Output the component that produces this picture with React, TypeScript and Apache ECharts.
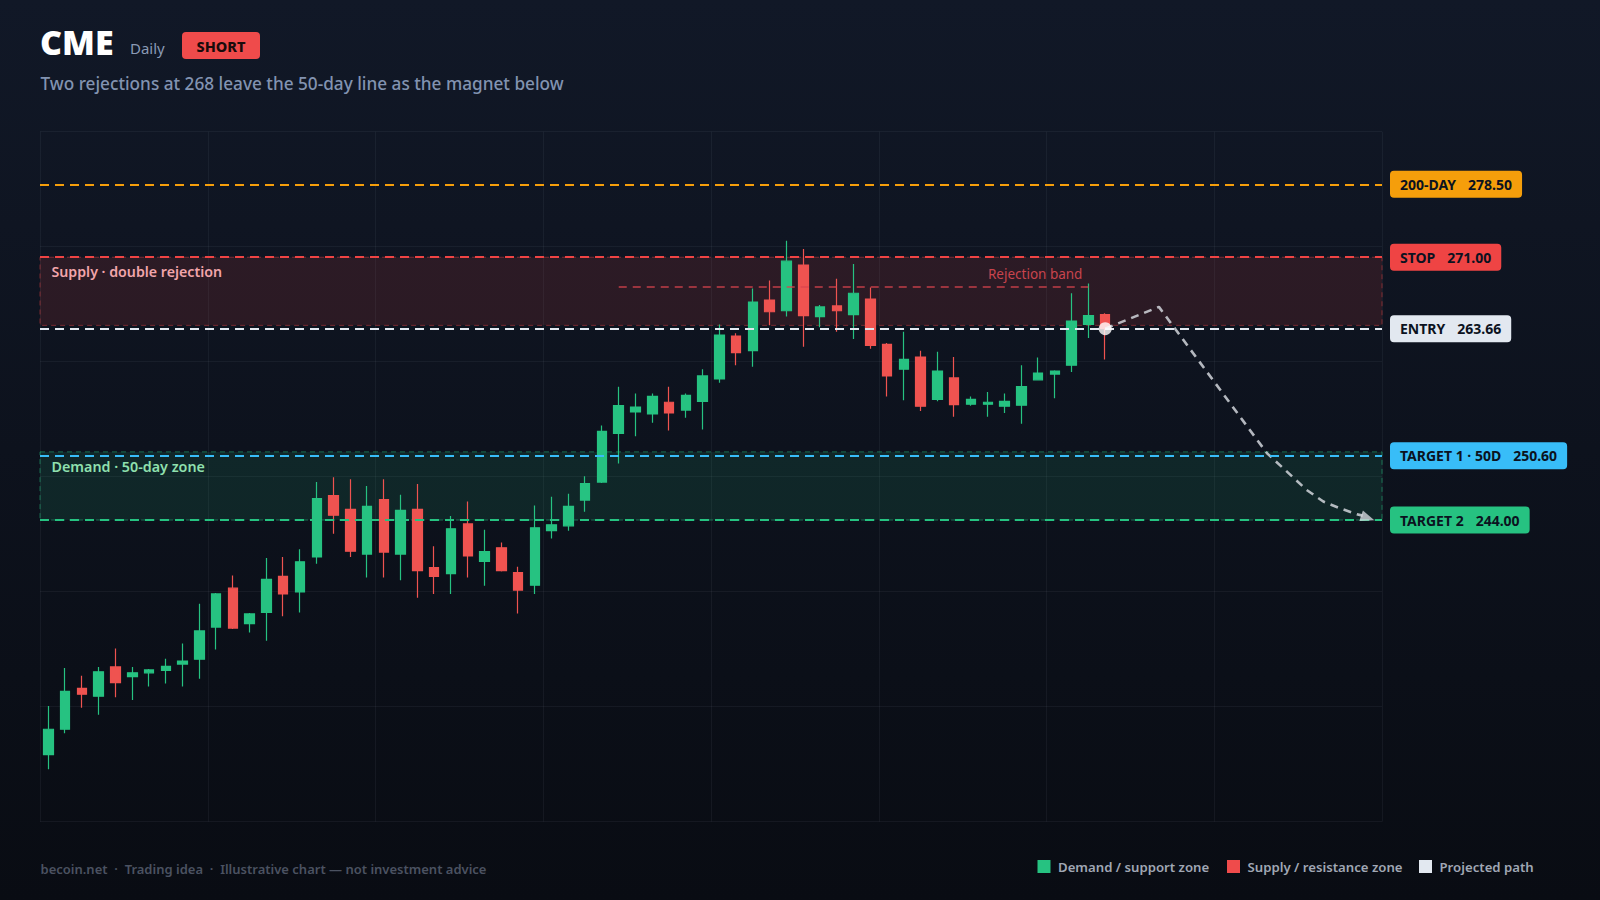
import React, { useEffect, useRef } from "react";
import * as echarts from "echarts";

// ---------------- DATA ----------------
const TOTAL_SLOTS = 80; // 64 traded days + projection space
const categories = Array.from({ length: TOTAL_SLOTS }, (_, i) => `D${i + 1}`);

const opens = [
  219.9, 222.5, 226.7, 225.9, 228.9, 227.9, 228.3, 228.55, 229.2, 229.7,
  233.0, 237.0, 233.35, 234.5, 238.2, 236.6, 240.2, 246.5, 245.1, 240.5,
  246.1, 240.5, 245.1, 239.1, 238.5, 243.6, 239.75, 241.15, 238.6, 237.3,
  242.9, 243.4, 246.05, 247.9, 252.9, 255.1, 254.9, 256.1, 255.3, 256.2,
  258.5, 262.9, 261.4, 266.6, 265.5, 270.2, 264.9, 266.0, 265.1, 266.7,
  262.05, 259.5, 260.75, 256.4, 258.6, 255.9, 255.9, 255.7, 255.8, 258.4,
  259.0, 259.9, 264.1, 265.1,
];
const closes = [
  222.5, 226.4, 226.1, 228.4, 227.3, 228.3, 228.6, 228.95, 229.5, 232.6,
  236.4, 232.9, 234.35, 237.9, 236.4, 239.7, 246.2, 244.5, 240.8, 245.4,
  240.7, 245.0, 238.8, 238.2, 243.1, 240.3, 240.75, 238.8, 236.8, 243.2,
  243.5, 245.4, 247.75, 253.1, 255.75, 255.6, 256.7, 255.0, 256.8, 258.8,
  263.0, 261.2, 266.4, 265.4, 270.6, 265.0, 265.9, 265.5, 267.3, 261.95,
  258.8, 260.5, 255.7, 259.3, 255.85, 256.4, 256.1, 256.2, 257.7, 259.1,
  259.3, 264.45, 265.0, 263.66,
];
const lows = [
  218.4, 222.1, 224.7, 224.0, 225.8, 225.5, 226.9, 227.2, 226.9, 227.7,
  230.7, 232.8, 232.45, 231.6, 234.1, 234.5, 239.5, 242.6, 240.2, 238.1,
  238.1, 237.8, 236.0, 236.4, 236.4, 238.1, 237.25, 238.7, 234.4, 236.4,
  242.1, 242.9, 244.85, 247.8, 249.8, 252.6, 254.0, 253.2, 254.5, 253.3,
  258.1, 259.9, 259.75, 264.0, 264.9, 261.8, 263.8, 263.35, 262.6, 261.6,
  256.7, 256.3, 255.2, 256.2, 254.6, 255.75, 254.6, 255.0, 253.9, 258.4,
  256.5, 259.2, 262.7, 260.5,
];
const highs = [
  224.9, 228.8, 228.0, 228.9, 230.8, 228.9, 228.7, 229.75, 231.3, 235.4,
  236.5, 238.3, 234.45, 240.1, 240.2, 241.0, 247.9, 248.4, 248.2, 247.5,
  248.2, 246.6, 247.7, 241.3, 244.4, 245.9, 243.0, 241.7, 239.2, 245.5,
  246.4, 246.7, 248.5, 253.7, 257.7, 257.0, 257.0, 257.7, 257.0, 259.5,
  264.1, 263.2, 267.8, 268.6, 272.7, 271.85, 266.1, 268.8, 270.3, 267.9,
  262.2, 263.35, 261.4, 261.3, 260.75, 256.7, 257.15, 257.0, 259.9, 260.7,
  259.4, 267.3, 268.3, 265.25,
];

// key levels
const levelNames = ["200-DAY", "STOP", "ENTRY", "TARGET 1 · 50D", "TARGET 2"];
const levelValues = [278.5, 271.0, 263.66, 250.6, 244.0];
const levelColors = ["#f59e0b", "#ef4444", "#e2e8f0", "#38bdf8", "#26c281"];

// zones [top, bottom]
const supplyZone = [271.0, 264.0];
const demandZone = [251.0, 244.0];

// rejection band (candle index start/end, price)
const rejectionBand = { from: 34, to: 62, price: 268.0 };

// projected path (slot position, price)
const pathX = [63.5, 66.7, 73.15, 74.35, 75.5, 76.5, 77.5, 78.5, 78.85];
const pathY = [263.66, 265.9, 250.85, 248.95, 247.1, 245.9, 245.2, 244.6, 244.45];
const arrowPoint = [79.15, 244.2];
const entryPoint = [63.5, 263.66];

// legend
const legendLabels = ["Demand / support zone", "Supply / resistance zone", "Projected path"];
const legendColors = ["#26c281", "#ef4b4b", "#e2e8f0"];
const legendX = [1037.5, 1227, 1419];

const Y_MIN = 213.0;
const Y_MAX = 283.9;

const FONT = "'Noto Sans', 'Open Sans', sans-serif";

export default function App() {
  const ref = useRef<HTMLDivElement>(null);

  useEffect(() => {
    document.body.style.margin = "0";
    document.body.style.background = "#0a0d14";
    if (!ref.current) return;
    const chart = echarts.init(ref.current, undefined, { renderer: "svg" });

    const candleData = opens.map((o, i) => [o, closes[i], lows[i], highs[i]]);
    const gridColor = "rgba(148,163,184,0.08)";

    const levelLines = levelNames.map((name, i) => ({
      yAxis: levelValues[i],
      lineStyle: { color: levelColors[i], width: 2, type: [9, 6] },
      label: {
        show: true,
        position: "end",
        distance: 8,
        formatter: `{a|${name}}{b|${levelValues[i].toFixed(2)}}`,
        backgroundColor: levelColors[i],
        borderRadius: 4,
        padding: [6, 10, 6, 10],
        rich: {
          a: { fontFamily: FONT, fontSize: 14, fontWeight: 700, color: "#0b1220", lineHeight: 15 },
          b: { fontFamily: FONT, fontSize: 14, fontWeight: 700, color: "#0b1220", lineHeight: 15, padding: [0, 0, 0, 12] },
        },
      },
    }));

    const legendGraphics: any[] = [];
    legendLabels.forEach((label, i) => {
      legendGraphics.push({
        type: "rect",
        shape: { x: legendX[i], y: 860, width: 13, height: 13 },
        style: { fill: legendColors[i] },
      });
      legendGraphics.push({
        type: "text",
        x: legendX[i] + 20.5,
        y: 866.5,
        style: { text: label, fill: "#a0a7b4", font: `600 13.2px ${FONT}`, verticalAlign: "middle" },
      });
    });

    const option: any = {
      animation: false,
      backgroundColor: new echarts.graphic.LinearGradient(0, 0, 0, 1, [
        { offset: 0, color: "#111827" },
        { offset: 1, color: "#090c13" },
      ]),
      textStyle: { fontFamily: FONT },
      grid: { left: 40, top: 131.7, width: 1342, height: 690, containLabel: false },
      xAxis: [
        {
          type: "category",
          data: categories,
          boundaryGap: true,
          axisLine: { show: false },
          axisTick: { show: false },
          axisLabel: { show: false },
          splitLine: { show: false },
        },
        {
          type: "value",
          min: 0,
          max: TOTAL_SLOTS,
          interval: 10,
          axisLine: { show: false },
          axisTick: { show: false },
          axisLabel: { show: false },
          splitLine: { show: true, lineStyle: { color: gridColor, width: 1 } },
        },
      ],
      yAxis: [
        {
          type: "value",
          min: Y_MIN,
          max: Y_MAX,
          axisLine: { show: false },
          axisTick: { show: false },
          axisLabel: { show: false },
          splitLine: { show: false },
        },
        {
          type: "value",
          min: 0,
          max: 6,
          interval: 1,
          axisLine: { show: false },
          axisTick: { show: false },
          axisLabel: { show: false },
          splitLine: { show: true, lineStyle: { color: gridColor, width: 1 } },
        },
      ],
      series: [
        {
          name: "zones",
          type: "line",
          xAxisIndex: 1,
          yAxisIndex: 0,
          data: [[0, Y_MIN]],
          showSymbol: false,
          lineStyle: { opacity: 0 },
          silent: true,
          z: 1,
          markArea: {
            silent: true,
            data: [
              [
                {
                  xAxis: 0,
                  yAxis: supplyZone[0],
                  itemStyle: {
                    color: "rgba(239,68,68,0.13)",
                    borderColor: "rgba(239,68,68,0.45)",
                    borderWidth: 1,
                    borderType: [5, 4],
                  },
                  label: {
                    show: true,
                    formatter: "Supply · double rejection",
                    position: [12, 8],
                    color: "#f2a5ab",
                    fontFamily: FONT,
                    fontSize: 14.2,
                    fontWeight: 600,
                  },
                },
                { xAxis: TOTAL_SLOTS, yAxis: supplyZone[1] },
              ],
              [
                {
                  xAxis: 0,
                  yAxis: demandZone[0],
                  itemStyle: {
                    color: "rgba(38,194,129,0.12)",
                    borderColor: "rgba(38,194,129,0.5)",
                    borderWidth: 1,
                    borderType: [5, 4],
                  },
                  label: {
                    show: true,
                    formatter: "Demand · 50-day zone",
                    position: [12, 8],
                    color: "#8fe0ae",
                    fontFamily: FONT,
                    fontSize: 14.3,
                    fontWeight: 600,
                  },
                },
                { xAxis: TOTAL_SLOTS, yAxis: demandZone[1] },
              ],
            ],
          },
        },
        {
          name: "CME",
          type: "candlestick",
          xAxisIndex: 0,
          yAxisIndex: 0,
          data: candleData,
          barWidth: 10,
          z: 2,
          itemStyle: {
            color: "#26c281",
            color0: "#ef5350",
            borderColor: "#26c281",
            borderColor0: "#ef5350",
            borderWidth: 1.2,
          },
        },
        {
          name: "levels",
          type: "line",
          xAxisIndex: 1,
          yAxisIndex: 0,
          data: [[0, Y_MIN]],
          showSymbol: false,
          lineStyle: { opacity: 0 },
          silent: true,
          z: 3,
          markLine: {
            silent: true,
            symbol: ["none", "none"],
            data: [
              ...levelLines,
              [
                {
                  coord: [rejectionBand.from + 0.5, rejectionBand.price],
                  lineStyle: { color: "rgba(220,68,76,0.85)", width: 1.5, type: [8, 6] },
                  label: {
                    show: true,
                    position: "insideEndTop",
                    distance: 5,
                    padding: [0, 1, 0, 0],
                    formatter: "Rejection band",
                    color: "#c8444d",
                    fontFamily: FONT,
                    fontSize: 13.5,
                  },
                },
                { coord: [rejectionBand.to + 0.5, rejectionBand.price] },
              ],
            ],
          },
        },
        {
          name: "Projected path",
          type: "line",
          xAxisIndex: 1,
          yAxisIndex: 0,
          data: pathX.map((x, i) => [x, pathY[i]]),
          showSymbol: false,
          smooth: false,
          z: 4,
          lineStyle: { color: "rgba(209,213,219,0.85)", width: 2.6, type: [8, 6] },
        },
        {
          name: "arrow",
          type: "scatter",
          xAxisIndex: 1,
          yAxisIndex: 0,
          data: [arrowPoint],
          symbol: "triangle",
          symbolSize: [11, 14],
          symbolRotate: -109,
          z: 5,
          itemStyle: { color: "#d1d5db" },
        },
        {
          name: "entry",
          type: "scatter",
          xAxisIndex: 1,
          yAxisIndex: 0,
          data: [entryPoint],
          symbol: "circle",
          symbolSize: 13,
          z: 6,
          itemStyle: { color: "#ffffff" },
        },
      ],
      graphic: [
        {
          type: "text",
          x: 40,
          y: 42,
          style: { text: "CME", fill: "#ffffff", font: `900 34px ${FONT}`, verticalAlign: "middle" },
        },
        {
          type: "text",
          x: 130,
          y: 48,
          style: { text: "Daily", fill: "#8a9ab5", font: `400 15px ${FONT}`, verticalAlign: "middle" },
        },
        {
          type: "rect",
          shape: { x: 182, y: 32, width: 78, height: 27, r: 4 },
          style: { fill: "#ef4b4b" },
        },
        {
          type: "text",
          x: 221,
          y: 46,
          style: { text: "SHORT", fill: "#1a0b0b", font: `800 14.5px ${FONT}`, align: "center", verticalAlign: "middle" },
        },
        {
          type: "text",
          x: 40.5,
          y: 83,
          style: {
            text: "Two rejections at 268 leave the 50-day line as the magnet below",
            fill: "#8293b1",
            font: `500 17.2px ${FONT}`,
            verticalAlign: "middle",
          },
        },
        {
          type: "text",
          x: 40.5,
          y: 868.5,
          style: {
            text: "becoin.net  ·  Trading idea  ·  Illustrative chart — not investment advice",
            fill: "#4b5261",
            font: `600 13px ${FONT}`,
            verticalAlign: "middle",
          },
        },
        ...legendGraphics,
      ],
    };

    chart.setOption(option);
    return () => chart.dispose();
  }, []);

  return <div ref={ref} style={{ width: 1600, height: 900 }} />;
}
